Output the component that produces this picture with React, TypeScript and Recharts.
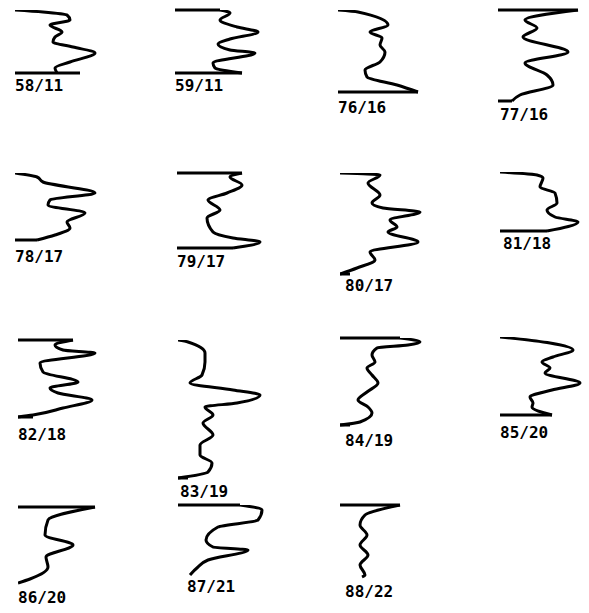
import { LineChart, Line, XAxis, YAxis, ReferenceLine } from "recharts"

// station labels
const stations = [
  "58/11", "59/11", "76/16", "77/16",
  "78/17", "79/17", "80/17", "81/18",
  "82/18", "83/19", "84/19", "85/20",
  "86/20", "87/21", "88/22",
]

// profile values (across) and depths (down) for each station
const v5811 = [0, 28, 52, 55, 35, 47, 40, 38, 58, 80, 55, 40, 42]
const d5811 = [0, 2, 5, 10, 15, 22, 27, 32, 37, 43, 52, 58, 63]
const v5911 = [45, 55, 45, 62, 83, 55, 43, 55, 80, 38, 40, 67]
const d5911 = [0, 3, 10, 17, 22, 29, 34, 40, 43, 53, 58, 63]
const v7616 = [0, 20, 50, 32, 44, 42, 47, 42, 27, 29, 59, 80]
const d7616 = [0, 2, 15, 22, 28, 35, 42, 52, 60, 67, 75, 82]
const v7716 = [80, 27, 39, 25, 70, 27, 49, 55, 22, 14]
const d7716 = [0, 10, 18, 27, 42, 53, 65, 75, 85, 91]
const v7817 = [0, 22, 28, 80, 35, 33, 70, 52, 55, 40, 22]
const d7817 = [0, 4, 9, 20, 27, 32, 40, 49, 55, 62, 67]
const v7917 = [65, 53, 65, 50, 31, 43, 30, 36, 56, 83, 56]
const d7917 = [0, 4, 12, 20, 27, 37, 45, 59, 65, 69, 75]
const v8017 = [0, 40, 28, 40, 32, 43, 80, 50, 57, 48, 78, 30, 35, 17, 0]
const d8017 = [0, 2, 10, 22, 30, 35, 39, 47, 54, 59, 69, 79, 87, 95, 101]
const v8118 = [0, 37, 43, 40, 55, 57, 47, 55, 78, 47]
const d8118 = [0, 3, 6, 15, 21, 31, 38, 45, 50, 59]
const v8218 = [55, 37, 45, 77, 22, 25, 60, 32, 40, 74, 45, 15, 0]
const d8218 = [0, 5, 10, 13, 23, 32, 42, 48, 53, 60, 68, 75, 77]
const v8319 = [0, 10, 27, 27, 24, 12, 55, 82, 59, 27, 35, 25, 35, 22, 22, 34, 30, 0]
const d8319 = [0, 2, 13, 22, 35, 43, 50, 55, 63, 67, 75, 83, 95, 105, 115, 123, 132, 138]
const v8419 = [60, 80, 68, 37, 32, 35, 27, 32, 38, 27, 18, 28, 32, 20, 0]
const d8419 = [0, 4, 7, 10, 17, 24, 30, 37, 45, 54, 62, 69, 75, 84, 87]
const v8520 = [0, 50, 73, 53, 42, 50, 45, 80, 52, 30, 33, 32, 52]
const d8520 = [0, 6, 13, 20, 25, 31, 36, 46, 53, 60, 66, 70, 78]
const v8620 = [77, 30, 27, 55, 28, 30, 12, 0]
const d8620 = [0, 13, 28, 38, 50, 60, 72, 76]
const v8721 = [62, 84, 80, 40, 28, 35, 70, 30, 20, 12]
const d8721 = [0, 5, 15, 22, 35, 42, 45, 55, 62, 70]
const v8822 = [60, 25, 20, 27, 20, 28, 20, 25, 22]
const d8822 = [0, 10, 20, 30, 40, 50, 60, 70, 72]

const values = [v5811, v5911, v7616, v7716, v7817, v7917, v8017, v8118, v8218, v8319, v8419, v8520, v8620, v8721, v8822]
const depths = [d5811, d5911, d7616, d7716, d7817, d7917, d8017, d8118, d8218, d8319, d8419, d8520, d8620, d8721, d8822]

// length of the surface line and of the bottom line
const topLine = [0, 45, 0, 80, 0, 65, 0, 0, 55, 0, 60, 0, 77, 62, 60]
const bottomLine = [65, 67, 80, 14, 22, 56, 10, 47, 15, 10, 10, 52, 0, 0, 0]

// where each panel sits on the page, and its label
const origins = [
  [15, 10], [175, 10], [338, 10], [498, 10],
  [15, 173], [177, 173], [340, 173], [500, 172],
  [18, 340], [178, 340], [340, 338], [500, 337],
  [18, 507], [178, 505], [340, 505],
]
const labelPos = [
  [15, 91], [175, 91], [338, 113], [500, 120],
  [15, 262], [177, 267], [345, 291], [503, 249],
  [18, 440], [180, 497], [345, 446], [500, 438],
  [18, 603], [187, 592], [345, 597],
]

const W = 100
const H = 140
const PAD = 4
const INK = "#000"
const SW = 3

function Profile({ i }: { i: number }) {
  const [ox, oy] = origins[i]
  const dep = depths[i]
  const data = values[i].map((v, k) => ({ v, d: dep[k] }))
  const bottom = dep[dep.length - 1]
  return (
    <div style={{ position: "absolute", left: ox - PAD, top: oy - PAD }}>
      <LineChart
        width={W + 2 * PAD}
        height={H + 2 * PAD}
        layout="vertical"
        data={data}
        margin={{ top: PAD, right: PAD, bottom: PAD, left: PAD }}
      >
        <XAxis type="number" dataKey="v" domain={[0, W]} hide allowDataOverflow />
        <YAxis type="number" dataKey="d" domain={[0, H]} hide allowDataOverflow />
        {topLine[i] > 0 && (
          <ReferenceLine
            segment={[{ x: 0, y: 0 }, { x: topLine[i], y: 0 }]}
            stroke={INK}
            strokeWidth={SW}
            ifOverflow="visible"
          />
        )}
        {bottomLine[i] > 0 && (
          <ReferenceLine
            segment={[{ x: 0, y: bottom }, { x: bottomLine[i], y: bottom }]}
            stroke={INK}
            strokeWidth={SW}
            ifOverflow="visible"
          />
        )}
        <Line
          dataKey="v"
          type="monotone"
          stroke={INK}
          strokeWidth={SW}
          strokeLinejoin="round"
          dot={false}
          activeDot={false}
          isAnimationActive={false}
        />
      </LineChart>
    </div>
  )
}

export default function App() {
  return (
    <div style={{ position: "absolute", left: 0, top: 0, width: 589, height: 613, background: "#fff", overflow: "hidden" }}>
      {stations.map((_, i) => (
        <Profile key={i} i={i} />
      ))}
      <svg width={589} height={613} style={{ position: "absolute", left: 0, top: 0, pointerEvents: "none" }}>
        {stations.map((s, i) => (
          <text
            key={s}
            x={labelPos[i][0]}
            y={labelPos[i][1]}
            fontFamily="DejaVu Sans Mono"
            fontSize={16}
            fontWeight="bold"
            fill={INK}
          >
            {s}
          </text>
        ))}
      </svg>
    </div>
  )
}
